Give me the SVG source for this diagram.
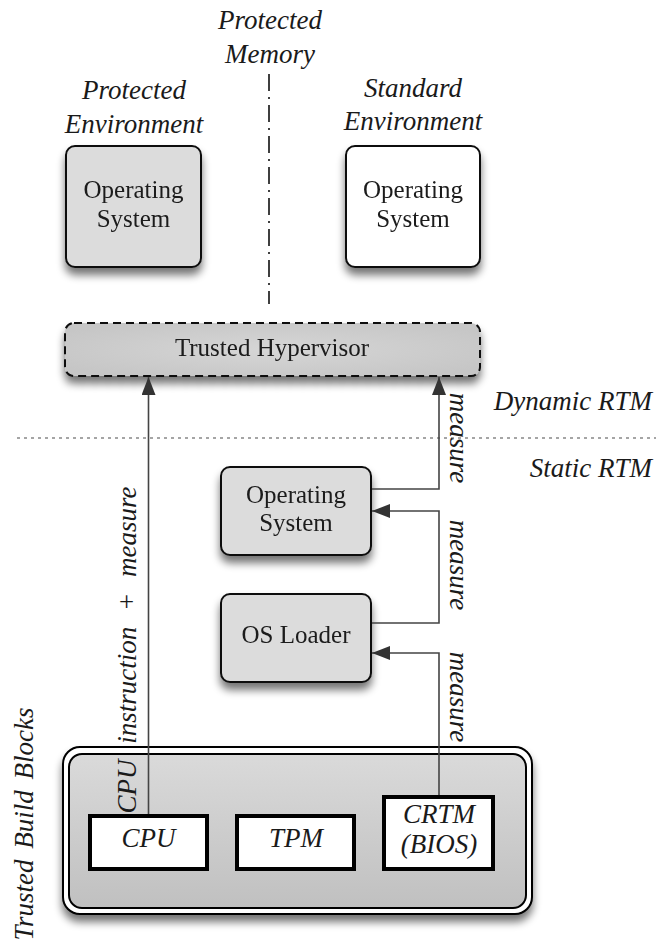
<svg xmlns="http://www.w3.org/2000/svg" width="656" height="941" viewBox="0 0 656 941">
<style>
.lbl{font-family:"Liberation Serif","Times New Roman",serif;font-size:25px;fill:#1a1a1a;text-anchor:middle}
.it{font-family:"Liberation Serif","Times New Roman",serif;font-size:27px;font-style:italic;fill:#1a1a1a;text-anchor:middle}
.node{stroke:#111;stroke-width:2}
.conn{fill:none;stroke:#444;stroke-width:1.6}
.small{fill:#fff;stroke:#000;stroke-width:4}
</style>
<defs>
<filter id="sh" x="-30%" y="-30%" width="160%" height="170%">
<feGaussianBlur in="SourceAlpha" stdDeviation="4"/>
<feOffset dx="0" dy="7" result="b"/>
<feComponentTransfer><feFuncA type="linear" slope="0.55"/></feComponentTransfer>
<feMerge><feMergeNode/><feMergeNode in="SourceGraphic"/></feMerge>
</filter>
<radialGradient id="hyp" cx="50%" cy="50%" r="60%">
<stop offset="0" stop-color="#d6d6d6"/>
<stop offset="1" stop-color="#c6c6c6"/>
</radialGradient>
<linearGradient id="tbb" x1="0" y1="0" x2="0" y2="1">
<stop offset="0" stop-color="#dadada"/>
<stop offset="1" stop-color="#c0c0c0"/>
</linearGradient>
<marker id="ah" markerUnits="userSpaceOnUse" markerWidth="20" markerHeight="16" refX="18" refY="7" orient="auto">
<path d="M0,0 L18,7 L0,14 z" fill="#333"/>
</marker>
</defs>

<!-- labels -->
<g id="labels">
<text class="it" x="270" y="29">Protected</text>
<text class="it" x="270" y="63">Memory</text>
<text class="it" x="134" y="99">Protected</text>
<text class="it" x="134" y="133">Environment</text>
<text class="it" x="413" y="97">Standard</text>
<text class="it" x="413" y="130">Environment</text>
<text class="it" x="652" y="410" style="text-anchor:end">Dynamic RTM</text>
<text class="it" x="652" y="477" style="text-anchor:end">Static RTM</text>
<text class="it" transform="translate(33,824) rotate(-90)" word-spacing="4">Trusted Build Blocks</text>
</g>

<!-- separators -->
<line x1="269" y1="74" x2="269" y2="304" stroke="#000" stroke-width="1.5" stroke-dasharray="17 6 2 6"/>
<line x1="17" y1="438" x2="656" y2="438" stroke="#888" stroke-width="1.5" stroke-dasharray="3 4"/>

<g id="os-protected" filter="url(#sh)">
<rect class="node" x="66" y="146" width="135" height="121" rx="9" fill="#dcdcdc"/>
<text class="lbl" x="133.5" y="198">Operating</text>
<text class="lbl" x="133.5" y="227">System</text>
</g>

<g id="os-standard" filter="url(#sh)">
<rect class="node" x="346" y="146" width="134" height="121" rx="9" fill="#fff"/>
<text class="lbl" x="413" y="198">Operating</text>
<text class="lbl" x="413" y="227">System</text>
</g>

<g id="hypervisor" filter="url(#sh)">
<rect x="65" y="323" width="415" height="53" rx="9" fill="url(#hyp)" stroke="#111" stroke-width="2" stroke-dasharray="8 5"/>
<text class="lbl" x="272" y="356">Trusted Hypervisor</text>
</g>

<g id="os-static" filter="url(#sh)">
<rect class="node" x="221" y="467" width="150" height="88" rx="9" fill="#dcdcdc"/>
<text class="lbl" x="296" y="503">Operating</text>
<text class="lbl" x="296" y="531">System</text>
</g>

<g id="os-loader" filter="url(#sh)">
<rect class="node" x="221" y="594" width="150" height="88" rx="9" fill="#dcdcdc"/>
<text class="lbl" x="296" y="643">OS Loader</text>
</g>

<g id="tbb-group">
<g filter="url(#sh)">
<rect x="63" y="747" width="469" height="167" rx="17" fill="#fff" stroke="#000" stroke-width="2"/>
</g>
<rect x="69" y="754" width="457" height="154" rx="13" fill="url(#tbb)" stroke="#000" stroke-width="2"/>
</g>

<g id="cpu">
<rect class="small" x="90" y="816" width="117" height="53"/>
<text class="it" x="148.5" y="847">CPU</text>
</g>
<g id="tpm">
<rect class="small" x="237" y="816" width="117" height="53"/>
<text class="it" x="296" y="847">TPM</text>
</g>
<g id="crtm">
<rect class="small" x="384" y="797" width="109" height="72"/>
<text class="it" x="439" y="823">CRTM</text>
<text class="it" x="439" y="853">(BIOS)</text>
</g>

<g id="connectors">
<path class="conn" d="M148.5,814 V377" marker-end="url(#ah)"/>
<path class="conn" d="M372,489 H439 V377" marker-end="url(#ah)"/>
<path class="conn" d="M372,623 H439 V511 H372" marker-end="url(#ah)"/>
<path class="conn" d="M439,795 V653 H372" marker-end="url(#ah)"/>
<text class="it" transform="translate(450,438) rotate(90)">measure</text>
<text class="it" transform="translate(450,565) rotate(90)">measure</text>
<text class="it" transform="translate(450,697) rotate(90)">measure</text>
<text class="it" transform="translate(136,650) rotate(-90)" word-spacing="9">CPU instruction + measure</text>
</g>
</svg>
